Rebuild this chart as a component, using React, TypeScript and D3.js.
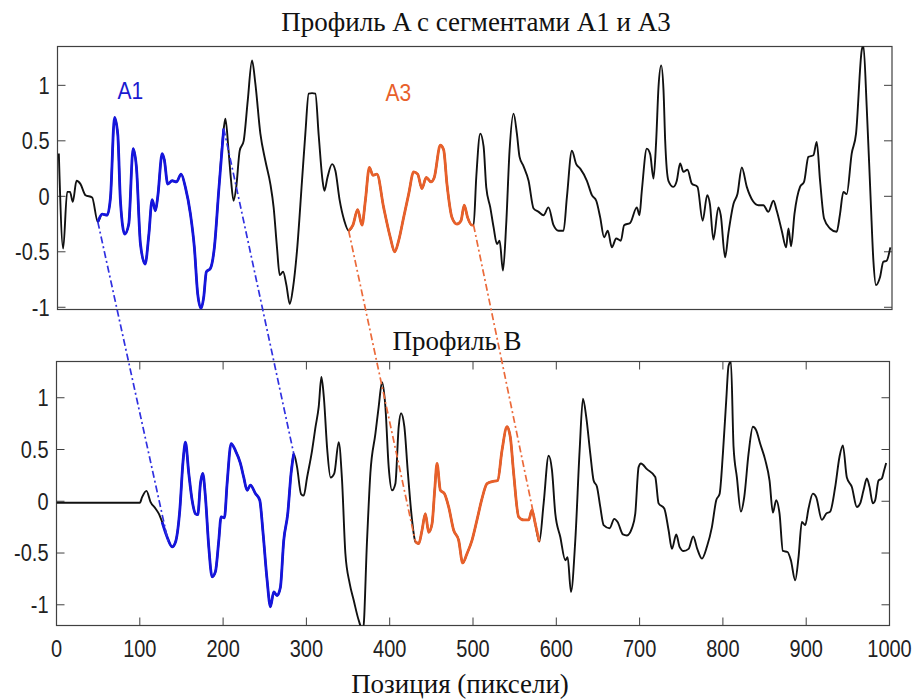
import React from "react";
import * as d3 from "d3";

const profileA: [number, number][] = [
  [1.6,0.385],[6.8,-0.47],[11.6,0.04],[15,0.04],[18.3,-0.05],[22.8,0.14],[27.6,0.11],[33.5,0.01],[41.5,-0.01],[48.3,-0.23],[53.5,-0.16],[59.5,-0.17],[63.5,-0.01],[68.3,0.71],[72.2,0.56],[75.4,-0.04],[80.6,-0.34],[85.4,-0.25],[90.6,0.43],[94.6,0.26],[99.4,-0.43],[105,-0.61],[109.4,-0.35],[113.4,-0.03],[117.4,-0.13],[120.2,0.0],[125.4,0.385],[128,0.33],[132.1,0.11],[137.4,0.14],[142.6,0.13],[148.1,0.2],[153.3,0.08],[159.3,-0.16],[164,-0.46],[168,-0.88],[172,-1.01],[175.2,-0.91],[178.4,-0.68],[183.2,-0.65],[188,-0.46],[193.2,0.05],[199.2,0.61],[201.2,0.7],[205,0.41],[208,0.14],[211,-0.04],[214.3,0.09],[218.3,0.41],[223.1,0.5],[228,0.865],[233.1,1.225],[237.1,1.015],[243.1,0.565],[249.1,0.32],[255.1,0.11],[259,-0.1],[263,-0.46],[266.3,-0.71],[270.3,-0.68],[274.3,-0.8],[278.3,-0.97],[282.3,-0.82],[287,-0.49],[293,0.14],[297,0.565],[301,0.925],[305,0.93],[309,0.925],[313,0.55],[317.5,0.15],[319.8,0.05],[323.5,0.17],[329,0.29],[333,0.23],[338,-0.03],[343.7,-0.22],[348.9,-0.31],[354,-0.26],[359.7,-0.12],[364.9,-0.26],[368.9,-0.04],[373.7,0.26],[378,0.19],[382.8,0.2],[390.8,-0.1],[398.8,-0.37],[404,-0.5],[408.8,-0.4],[414.8,-0.19],[420.8,0.02],[426.8,0.22],[431.6,0.2],[436.7,0.07],[441.9,0.17],[447.5,0.13],[451.5,0.17],[458.7,0.46],[462.7,0.42],[466.7,0.11],[472.7,-0.19],[478.7,-0.25],[483.5,-0.22],[487.4,-0.08],[491.4,-0.19],[496.6,-0.26],[498.6,-0.26],[501.8,0.17],[506.6,0.565],[510.6,0.45],[513.8,0.08],[518.6,-0.1],[522.6,-0.28],[526.6,-0.43],[529.8,-0.4],[533.8,-0.67],[537.7,-0.25],[541.7,0.41],[546.5,0.745],[550.5,0.565],[553.7,0.355],[558.5,0.27],[564.5,0.14],[570.5,-0.11],[576.5,-0.14],[582.4,-0.17],[588.4,-0.1],[594.4,-0.26],[600.4,-0.31],[606.4,-0.31],[610.4,-0.01],[616.4,0.41],[621.6,0.29],[626.4,0.25],[634.4,0.14],[640.4,0.01],[645.6,-0.04],[650.3,-0.19],[655,-0.37],[659.4,-0.31],[664.3,-0.46],[669.5,-0.38],[675.1,-0.4],[679,-0.26],[686.2,-0.24],[694.2,-0.1],[697.4,-0.17],[700.2,0.05],[706.2,0.43],[710.2,0.38],[714.2,0.16],[717.4,0.5],[720.2,0.985],[723.4,1.18],[726.2,0.955],[728.2,0.5],[732.1,0.14],[738.1,0.085],[742.1,0.14],[746.1,0.295],[750.1,0.22],[754.9,0.24],[760.1,0.115],[766.9,0.085],[773.1,-0.22],[778.6,0.01],[781.8,-0.07],[786,-0.39],[792,-0.1],[794.8,-0.17],[800,-0.55],[804,-0.33],[810,-0.07],[814.8,0.02],[820,0.26],[826,0.085],[833.1,-0.04],[839.9,-0.08],[845.9,-0.08],[851.8,-0.14],[857.9,-0.04],[861.9,-0.13],[867.9,-0.31],[873.1,-0.46],[875.9,-0.29],[879.1,-0.45],[883.1,-0.16],[889.8,0.085],[894.6,0.13],[899.8,0.355],[905.8,0.37],[909.8,0.49],[913.8,0.14],[918.6,-0.2],[925.7,-0.29],[933.7,-0.32],[937.7,-0.16],[941.7,0.04],[945.7,0.02],[951.7,0.385],[956.9,0.565],[963.7,1.315],[965.7,1.36],[969.7,0.805],[974.5,-0.04],[977.7,-0.58],[980.8,-0.8],[985.6,-0.73],[989.6,-0.59],[993.6,-0.58],[998,-0.46]
];

const profileB: [number, number][] = [
  [0,-0.015],[100,-0.015],[102.8,0.04],[108,0.1],[112.8,-0.005],[118.8,-0.07],[122.8,-0.12],[126.8,-0.2],[132.8,-0.345],[138.8,-0.44],[142.8,-0.395],[148,-0.087],[152,0.395],[154.8,0.57],[158.8,0.27],[162.8,0.01],[166.8,-0.12],[169.6,-0.13],[172.8,0.17],[175.6,0.27],[178.8,0.04],[182.8,-0.44],[186.8,-0.73],[190.8,-0.68],[194.8,-0.38],[197.6,-0.15],[201.6,-0.16],[204.8,0.17],[209.6,0.557],[214.8,0.49],[220.8,0.365],[224.8,0.23],[228.8,0.106],[232.8,0.155],[238.8,0.075],[244,0.01],[248,-0.31],[252.8,-0.76],[256.8,-1.02],[260.8,-0.876],[264.8,-0.91],[268.8,-0.83],[272.8,-0.377],[277.6,-0.12],[281.6,0.27],[284.8,0.46],[288.8,0.33],[293.6,0.07],[296.8,0.055],[300.8,0.23],[306.8,0.49],[311,0.72],[314.8,0.915],[318,1.2],[321,1.0],[325,0.5],[329,0.23],[333.5,0.27],[338.8,0.57],[342.8,0.2],[346.8,-0.505],[352,-0.795],[356.8,-0.957],[362.8,-1.15],[368,-1.25],[372.8,-0.377],[376.8,0.27],[382.8,0.65],[386.8,0.915],[390.8,1.15],[394.8,0.915],[398.8,0.33],[402.8,0.106],[406.8,0.17],[410.8,0.72],[413.6,0.85],[417.6,0.72],[421.6,0.3],[426.8,-0.18],[430.8,-0.39],[434.8,-0.41],[438.8,-0.28],[442.8,-0.12],[446.8,-0.3],[450.8,-0.22],[454,0.106],[456.8,0.365],[460.8,0.106],[465.6,0.075],[470.8,-0.055],[476.8,-0.28],[482.8,-0.377],[487.6,-0.596],[492.8,-0.506],[498.8,-0.377],[504.8,-0.18],[510.8,0.026],[516.8,0.17],[522.8,0.19],[529.6,0.2],[534.8,0.49],[540.8,0.72],[544.8,0.62],[548.8,0.27],[554.8,-0.15],[560.8,-0.18],[566.8,-0.18],[570.8,-0.087],[574.8,-0.22],[579.6,-0.39],[584.8,-0.02],[590.8,0.44],[594.8,0.3],[598.8,-0.12],[604.8,-0.345],[610.8,-0.57],[613.6,-0.54],[617.6,-0.876],[622.8,-0.377],[628,0.49],[632,0.99],[636,0.81],[640.8,0.46],[644.8,0.2],[648.8,0.14],[652.8,-0.055],[656.8,-0.23],[664,-0.26],[669.6,-0.17],[673.6,-0.2],[680,-0.32],[684.8,-0.33],[690.8,-0.26],[694.8,-0.12],[698.8,0.33],[701.6,0.365],[708.8,0.31],[718.8,0.235],[722.8,-0.02],[729.6,-0.07],[734.8,-0.28],[738.8,-0.46],[744,-0.32],[748,-0.44],[752.8,-0.48],[758.8,-0.46],[764.4,-0.34],[769.2,-0.46],[774.8,-0.554],[780.8,-0.44],[786.8,-0.25],[792,0.01],[796,0.07],[800,0.46],[804,0.976],[806.8,1.31],[809.6,1.35],[812.8,0.525],[816.8,0.23],[821.6,-0.1],[825.6,0.04],[830.8,0.46],[836,0.72],[840,0.685],[844.8,0.555],[850.8,0.4],[856,0.2],[860,-0.11],[864,0.01],[868,-0.12],[872,-0.48],[877.6,-0.49],[881.6,-0.57],[886.8,-0.763],[890.8,-0.54],[894.8,-0.2],[898.8,-0.23],[902.8,-0.07],[908,0.074],[912,0.04],[918.8,-0.18],[924,-0.12],[928.8,-0.1],[934.8,0.138],[940,0.43],[944,0.54],[948.8,0.23],[954.8,0.138],[960.8,-0.055],[964.8,-0.02],[968.8,0.106],[972.8,0.22],[976,0.14],[980,-0.02],[982.8,0.01],[986.8,0.2],[990.8,0.22],[993.6,0.3],[996,0.37]
];

// segment ranges (x in pixels)
const segmentsA = [
  { name: "A1", from: 48.3, to: 199.2, color: "#1515dc" },
  { name: "A3", from: 348.9, to: 498.6, color: "#e8602a" },
];
const segmentsB = [
  { name: "A1", from: 124, to: 284.8, color: "#1515dc" },
  { name: "A3", from: 428, to: 579.6, color: "#e8602a" },
];
// correspondence lines: [xA, yA] -> [xB, yB]
const links = [
  { a: [48.3, -0.23], b: [134, -0.39], color: "#3030e0" },
  { a: [199.2, 0.61], b: [284.8, 0.46], color: "#3030e0" },
  { a: [348.9, -0.31], b: [430.8, -0.39], color: "#eb6a3a" },
  { a: [498.6, -0.26], b: [579.6, -0.39], color: "#eb6a3a" },
];
const labelsA = [
  { text: "A1", x: 72, y: 0.88, color: "#1a1ad0" },
  { text: "A3", x: 393, y: 0.86, color: "#e8602a" },
];
const yTicks = [-1, -0.5, 0, 0.5, 1];
const xTicks = [0, 100, 200, 300, 400, 500, 600, 700, 800, 900, 1000];

const titleA = "Профиль A с сегментами A1 и A3";
const titleB = "Профиль B";
const xLabel = "Позиция (пиксели)";

const W = 916, H = 699;
const AX = "#404040";
const SANS = "Liberation Sans, Arial, sans-serif";
const SERIF = "Liberation Serif, Times New Roman, serif";

function Label({ x, y, anchor, children, size = 20, fill = "#222", sy = 1.16 }: any) {
  return (
    <g transform={`translate(${x},${y}) scale(1,${sy})`}>
      <text x={0} y={0} textAnchor={anchor} fontFamily={SANS} fontSize={size} fill={fill}>{children}</text>
    </g>
  );
}

export default function App() {
  const xA = d3.scaleLinear().domain([0, 1000]).range([57.5, 892]);
  const yA = d3.scaleLinear().domain([-1.02, 1.35]).range([309.5, 46.5]);
  const xB = d3.scaleLinear().domain([0, 1000]).range([56.5, 889.5]);
  const yB = d3.scaleLinear().domain([-1.2, 1.35]).range([625.5, 361.5]);

  const lineA = d3.line<[number, number]>().x(d => xA(d[0])).y(d => yA(d[1])).curve(d3.curveMonotoneX);
  const lineB = d3.line<[number, number]>().x(d => xB(d[0])).y(d => yB(d[1])).curve(d3.curveMonotoneX);

  const tick = 8;

  const panel = (
    x: d3.ScaleLinear<number, number>,
    y: d3.ScaleLinear<number, number>,
    id: string,
    showX: boolean
  ) => {
    const [x0, x1] = x.range();
    const [y1, y0] = y.range();
    return (
      <g>
        <defs>
          <clipPath id={id}>
            <rect x={x0} y={y0} width={x1 - x0} height={y1 - y0} />
          </clipPath>
        </defs>
        {yTicks.map(t => (
          <g key={"y" + t}>
            <line x1={x0} x2={x0 + tick} y1={y(t)} y2={y(t)} stroke={AX} strokeWidth={1} />
            <line x1={x1} x2={x1 - tick} y1={y(t)} y2={y(t)} stroke={AX} strokeWidth={1} />
            <Label x={x0 - 8} y={y(t) + 8.3} anchor="end">{String(t)}</Label>
          </g>
        ))}
        {showX && xTicks.map(t => (
          <g key={"x" + t}>
            <line x1={x(t)} x2={x(t)} y1={y1} y2={y1 - tick} stroke={AX} strokeWidth={1} />
            <line x1={x(t)} x2={x(t)} y1={y0} y2={y0 + tick} stroke={AX} strokeWidth={1} />
            <Label x={x(t)} y={y1 + 31} anchor="middle">{String(t)}</Label>
          </g>
        ))}
        <rect x={x0} y={y0} width={x1 - x0} height={y1 - y0} fill="none" stroke={AX} strokeWidth={1.2} />
      </g>
    );
  };

  return (
    <svg width={W} height={H} style={{ display: "block", position: "absolute", left: 0, top: 0, background: "#fff" }}>
      <rect width={W} height={H} fill="#fff" />
      {panel(xA, yA, "clipA", false)}
      {panel(xB, yB, "clipB", true)}

      <g clipPath="url(#clipA)">
        <path d={lineA(profileA) || ""} fill="none" stroke="#111" strokeWidth={1.9} strokeLinejoin="round" />
        {segmentsA.map(s => (
          <path key={s.name} d={lineA(profileA.filter(d => d[0] >= s.from && d[0] <= s.to)) || ""}
            fill="none" stroke={s.color} strokeWidth={2.8} strokeLinejoin="round" />
        ))}
      </g>
      <g clipPath="url(#clipB)">
        <path d={lineB(profileB) || ""} fill="none" stroke="#111" strokeWidth={1.9} strokeLinejoin="round" />
        {segmentsB.map(s => (
          <path key={s.name} d={lineB(profileB.filter(d => d[0] >= s.from && d[0] <= s.to)) || ""}
            fill="none" stroke={s.color} strokeWidth={2.8} strokeLinejoin="round" />
        ))}
      </g>

      {links.map((l, i) => (
        <line key={i} x1={xA(l.a[0])} y1={yA(l.a[1])} x2={xB(l.b[0])} y2={yB(l.b[1])}
          stroke={l.color} strokeWidth={1.7} strokeDasharray="7 3 2 3" />
      ))}

      {labelsA.map(l => (
        <Label key={l.text} x={xA(l.x)} y={yA(l.y)} anchor="start" size={21} fill={l.color} sy={1.1}>{l.text}</Label>
      ))}

      <text x={476} y={31} textAnchor="middle" fontFamily={SERIF} fontSize={27} fill="#111">{titleA}</text>
      <text x={457} y={350} textAnchor="middle" fontFamily={SERIF} fontSize={27} fill="#111">{titleB}</text>
      <text x={460} y={693} textAnchor="middle" fontFamily={SERIF} fontSize={27} fill="#111">{xLabel}</text>
    </svg>
  );
}
